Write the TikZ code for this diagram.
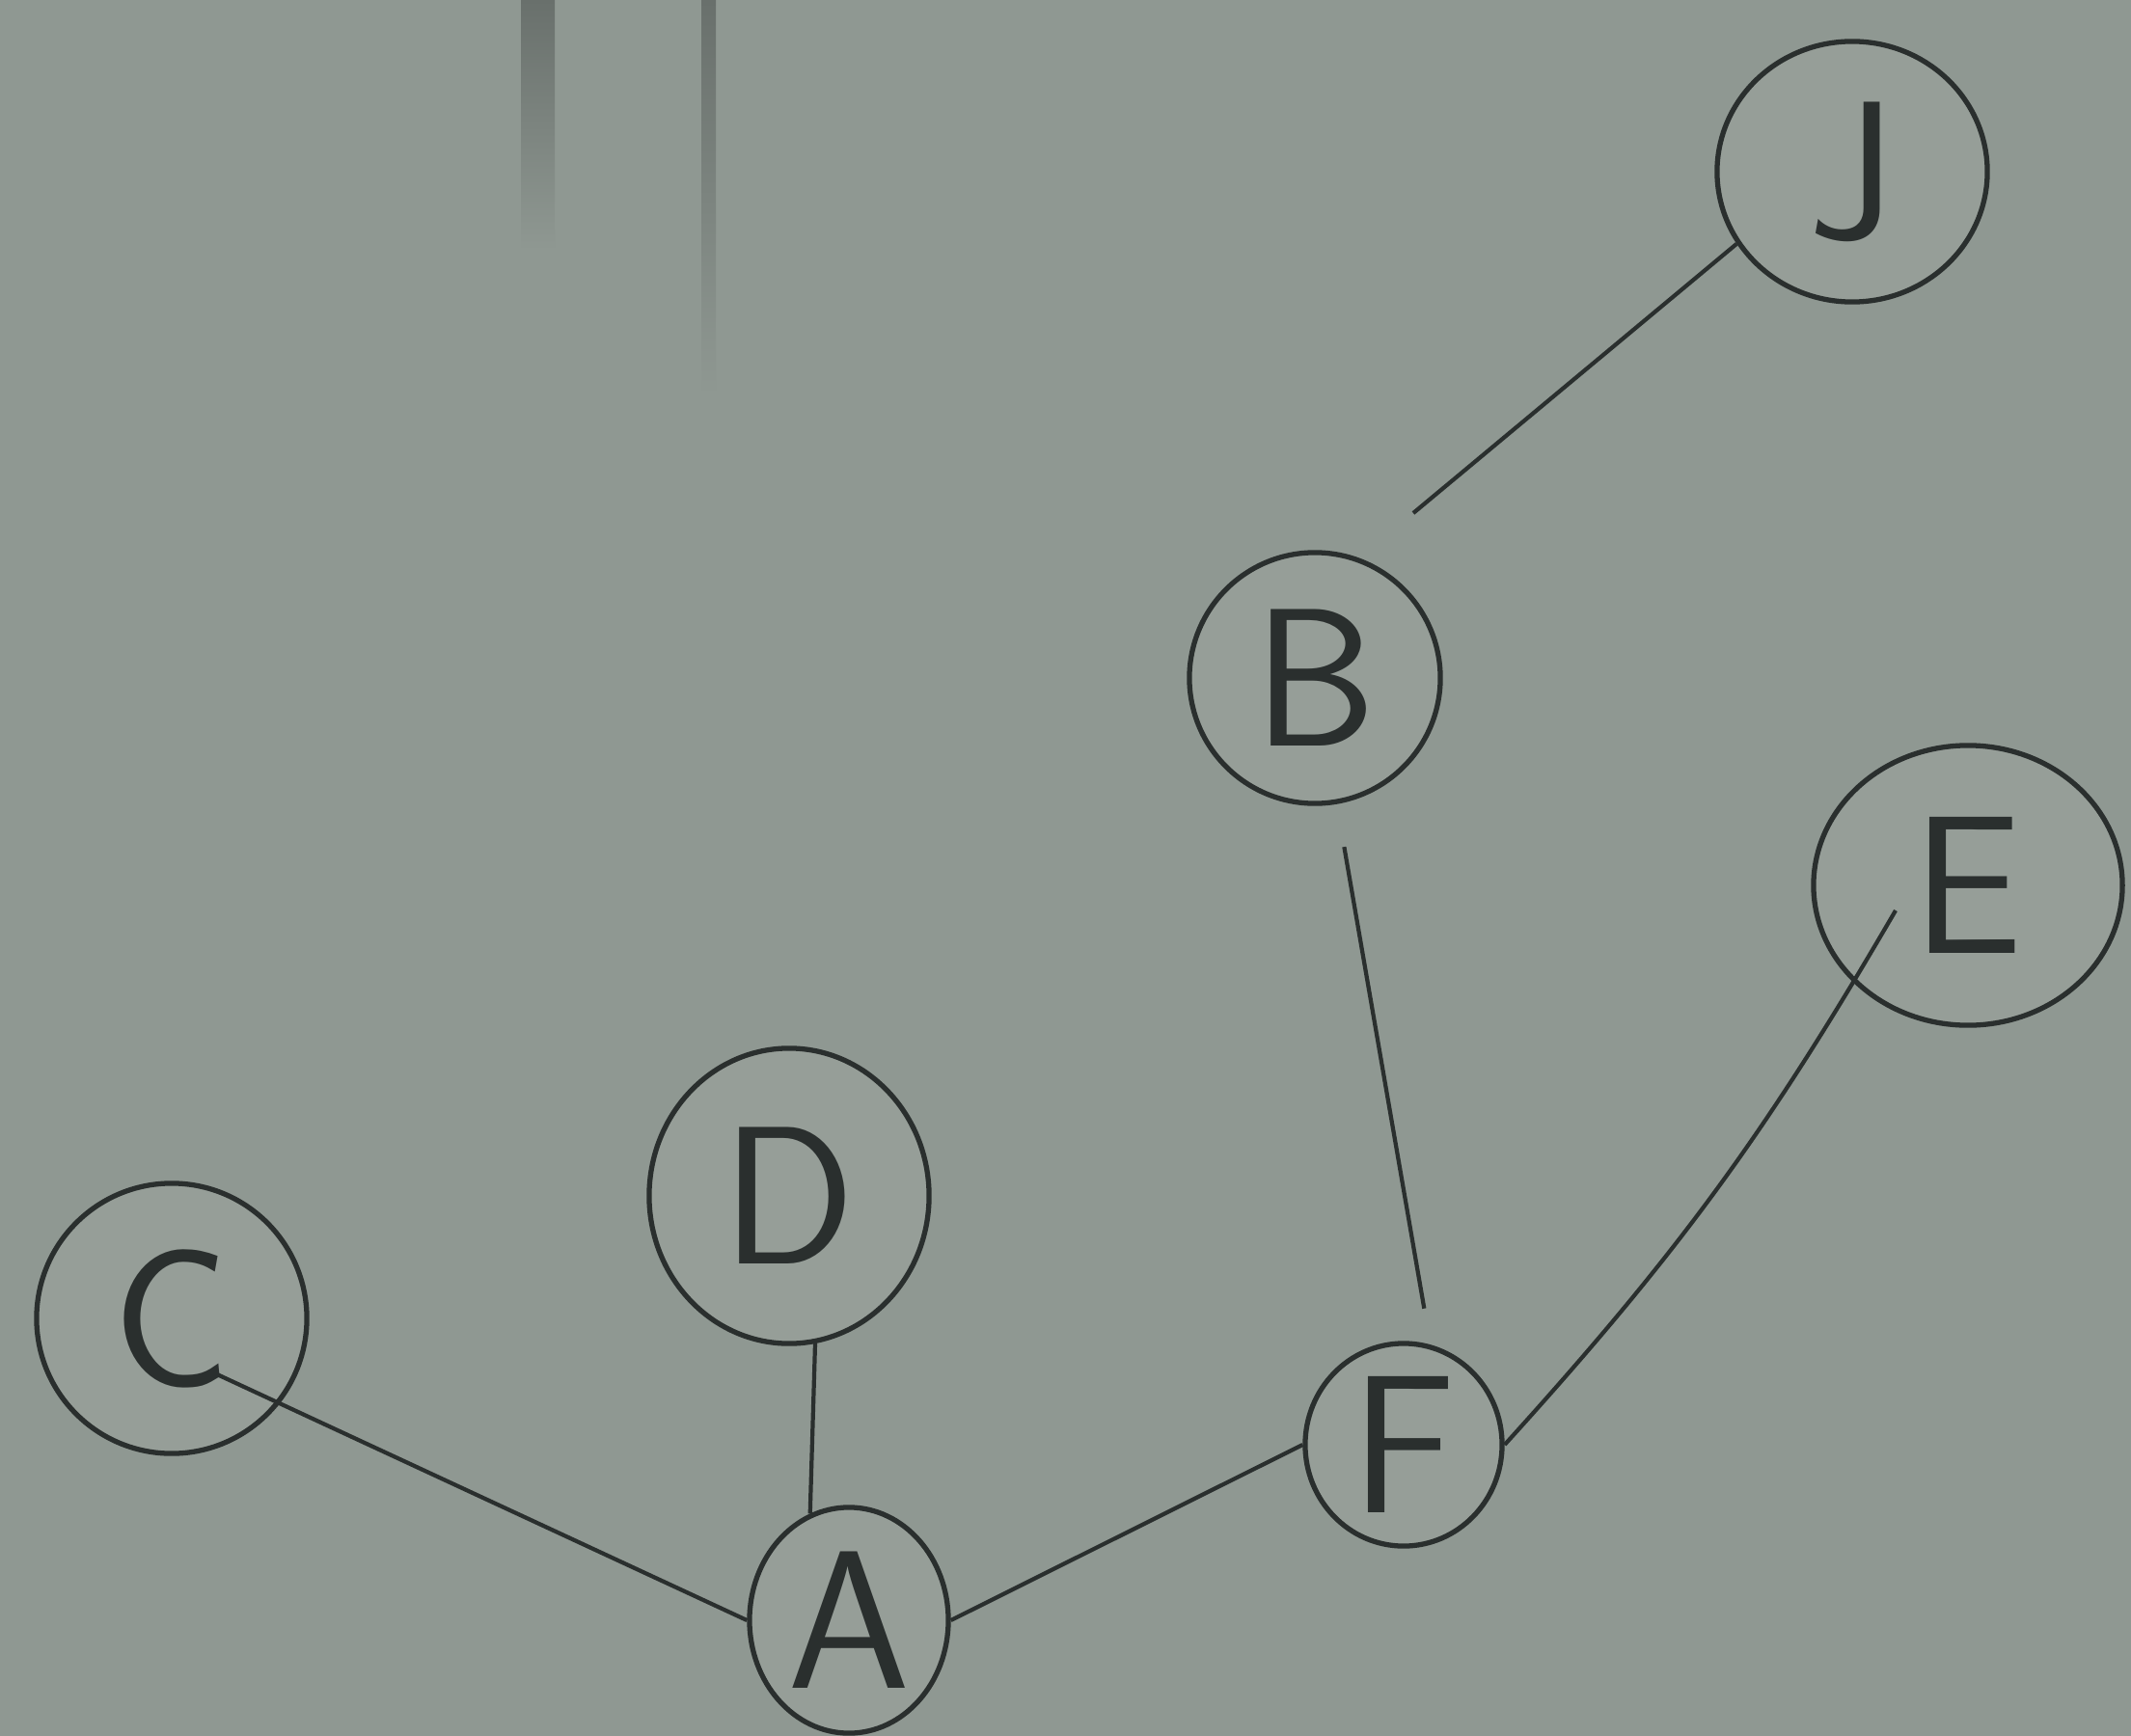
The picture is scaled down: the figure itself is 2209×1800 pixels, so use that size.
\documentclass[tikz,border=0pt]{standalone}
\usetikzlibrary{shapes.geometric}
\definecolor{paper}{RGB}{143,152,146}
\definecolor{paperlight}{RGB}{150,158,152}
\definecolor{pencil}{RGB}{42,47,46}
\definecolor{smudge}{RGB}{105,112,108}
\begin{document}
\begin{tikzpicture}[x=0.01cm,y=-0.01cm,
  vtx/.style={draw=pencil,line width=1.5pt,ellipse,inner sep=0pt,text=pencil,
    fill=paperlight,font=\sffamily\fontsize{58}{58}\selectfont},
  link/.style={draw=pencil,line width=1.2pt}]
\fill[paper] (0,0) rectangle (2209,1800);
\useasboundingbox (0,0) rectangle (2209,1800);
% photo smudges at the top
\shade[top color=smudge,bottom color=paper] (540,0) rectangle (575,260);
\shade[top color=smudge,bottom color=paper] (727,0) rectangle (742,410);
% nodes
\node[vtx,minimum width=2.80cm,minimum height=2.70cm] (J) at (1920,178) {J};
\node[vtx,minimum width=2.60cm,minimum height=2.60cm] (B) at (1363,703) {B};
\node[vtx,minimum width=3.20cm,minimum height=2.90cm] (E) at (2040,918) {E};
\node[vtx,minimum width=2.90cm,minimum height=3.06cm] (D) at (818,1240) {D};
\node[vtx,minimum width=2.80cm,minimum height=2.80cm] (C) at (178,1367) {C};
\node[vtx,minimum width=2.04cm,minimum height=2.10cm] (F) at (1455,1498) {F};
\node[vtx,minimum width=2.06cm,minimum height=2.34cm] (A) at (880,1680) {A};
% free ends of connectors
\coordinate (jbEnd) at (1465,532);
\coordinate (eStart) at (1965,944);
\coordinate (cStart) at (225,1425);
% connectors
\draw[link] (J.212) -- (jbEnd);
\draw[link,shorten <=0.45cm,shorten >=0.38cm] (B) -- (F.75);
\draw[link] (eStart) to[bend left=6] (F.east);
\draw[link] (D.-80) -- (A.110);
\draw[link] (cStart) -- (A.west);
\draw[link] (A.east) -- (F.west);
\end{tikzpicture}
\end{document}
